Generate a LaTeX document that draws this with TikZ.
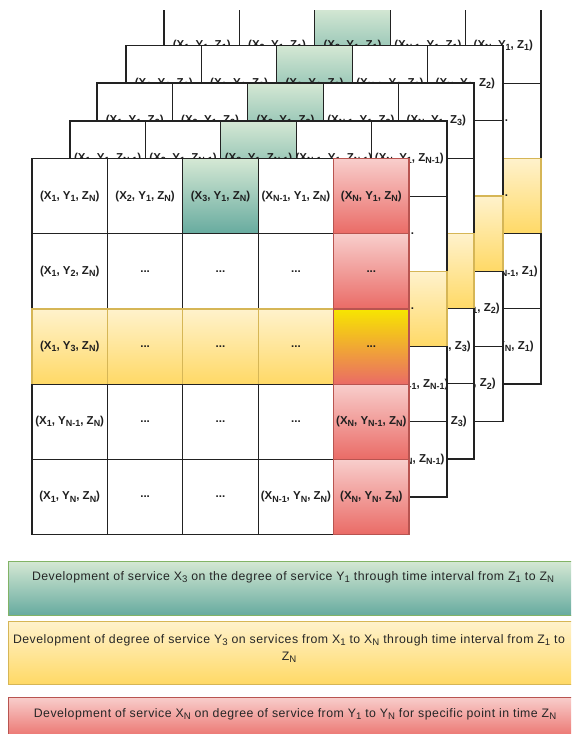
\documentclass[tikz,border=0pt]{standalone}
\usepackage{fontspec}
\setmainfont{Liberation Sans}
\newfontfamily\legfont[LetterSpace=4]{Liberation Sans}
\newcommand{\sbx}[1]{\raisebox{-0.35ex}{\scalebox{0.78}{#1}}}
\newcommand{\tpl}[3]{(X\sbx{#1}, Y\sbx{#2}, Z\sbx{#3})}
\newif\ifshowtuple
\definecolor{gtop}{HTML}{D5E8D4}
\definecolor{gbot}{HTML}{67AB9F}
\definecolor{gbord}{HTML}{82B366}
\definecolor{ytop}{HTML}{FFF2CC}
\definecolor{ybot}{HTML}{FFD966}
\definecolor{ybord}{HTML}{D6B656}
\definecolor{rtop}{HTML}{F8CECC}
\definecolor{rbot}{HTML}{EA6B66}
\definecolor{rbord}{HTML}{B85450}
\definecolor{otop}{HTML}{F7E600}
\definecolor{omid}{HTML}{F2A03A}
\definecolor{obot}{HTML}{EA6B66}
\definecolor{linec}{HTML}{222222}
\begin{document}
\begin{tikzpicture}[x=1pt,y=-1pt,
  cellbase/.style={rectangle, minimum width=75.4pt, minimum height=75.2pt, inner sep=0pt, outer sep=0pt, line width=1.2pt},
  wcell/.style={cellbase, draw=linec, fill=white},
  gcell/.style={cellbase, draw=linec, top color=gtop, bottom color=gbot},
  ycell/.style={cellbase, draw=ybord, top color=ytop, bottom color=ybot},
  rcell/.style={cellbase, draw=rbord, top color=rtop, bottom color=rbot},
  ocell/.style={cellbase, draw=rbord, top color=otop, middle color=omid, bottom color=obot},
  celltxt/.style={font=\fontsize{11.5}{13}\selectfont\bfseries, text=black!88, inner sep=0pt},
  legbox/.style={rectangle, inner sep=0pt, outer sep=0pt, line width=0.8pt, minimum width=568pt},
  gleg/.style={legbox, draw=gbord, top color=gtop, bottom color=gbot},
  yleg/.style={legbox, draw=ybord, top color=ytop, bottom color=ybot},
  rleg/.style={legbox, draw=rbord, top color=rtop, bottom color=rbot},
  legtxt/.style={font=\legfont\fontsize{12.3}{17}\selectfont, text=black!85, inner sep=0pt, align=center}
]
\useasboundingbox (0,0) rectangle (571,734);
\begin{scope}
\clip (0,10) rectangle (571,550);
\foreach \lname/\lx/\ly/\lz/\front in {A/164/8/1/0, B/126/45.5/2/0, C/97/83/3/0, D/70/121/N-1/0, E/32/158.5/N/1}{
  \foreach \ri/\ys in {1/1,2/2,3/3,4/N-1,5/N}{
    \foreach \ci/\xs in {1/1,2/2,3/3,4/N-1,5/N}{
      \def\cst{wcell}
      \ifnum\ri=3 \def\cst{ycell}\fi
      \ifnum\ri=1 \ifnum\ci=3 \def\cst{gcell}\fi\fi
      \ifnum\front=1 \ifnum\ci=5 \def\cst{rcell}\ifnum\ri=3 \def\cst{ocell}\fi\fi\fi
      \showtuplefalse
      \ifnum\ri=1 \showtupletrue\fi
      \ifnum\ci=1 \showtupletrue\fi
      \ifnum\ri=4 \ifnum\ci=5 \showtupletrue\fi\fi
      \ifnum\ri=5 \ifnum\ci>3 \showtupletrue\fi\fi
      \node[\cst] (\lname-\ri-\ci) at ({\lx+(\ci-0.5)*75.4},{\ly+(\ri-0.5)*75.2}) {};
      \node[celltxt] (t\lname-\ri-\ci) at (\lname-\ri-\ci) {\ifshowtuple\tpl{\xs}{\ys}{\lz}\else...\fi};
    }
  }
}
\end{scope}
\begin{scope}
\clip (0,0) rectangle (571,734);
\node[gleg, minimum height=54pt] (legG) at (292,588) {};
\node[legtxt] (legGt) at (293,577) {Development of service X\sbx{3} on the degree of service Y\sbx{1} through time interval from Z\sbx{1} to Z\sbx{N}};
\node[yleg, minimum height=63pt] (legY) at (292,652.5) {};
\node[legtxt] (legYt) at (289,648.5) {Development of degree of service Y\sbx{3} on services from X\sbx{1} to X\sbx{N} through time interval from Z\sbx{1} to\\ Z\sbx{N}};
\node[rleg, minimum height=44pt] (legR) at (292,719) {};
\node[legtxt] (legRt) at (295,714) {Development of service X\sbx{N} on degree of service from Y\sbx{1} to Y\sbx{N} for specific point in time Z\sbx{N}};
\end{scope}
\end{tikzpicture}
\end{document}
